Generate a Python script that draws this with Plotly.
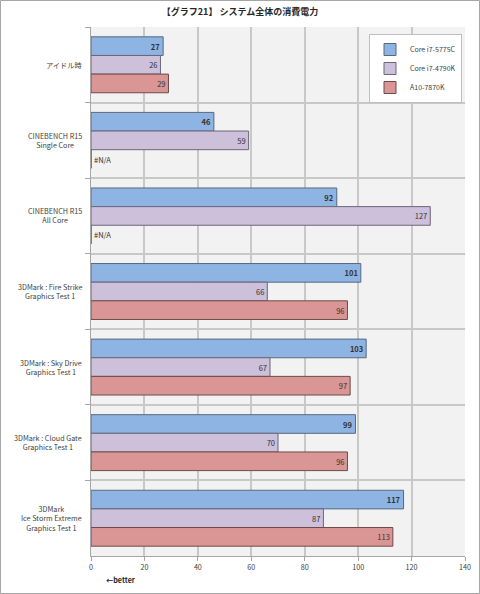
import plotly.graph_objects as go

categories = [
    "アイドル時",
    "CINEBENCH R15<br>Single Core",
    "CINEBENCH R15<br>All Core",
    "3DMark : Fire Strike<br>Graphics Test 1",
    "3DMark : Sky Drive<br>Graphics Test 1",
    "3DMark : Cloud Gate<br>Graphics Test 1",
    "3DMark<br>Ice Storm Extreme<br>Graphics Test 1",
]
series_names = ["Core i7-5775C", "Core i7-4790K", "A10-7870K"]
i7_5775c = [27, 46, 92, 101, 103, 99, 117]
i7_4790k = [26, 59, 127, 66, 67, 70, 87]
a10_7870k = [29, None, None, 96, 97, 96, 113]
x_ticks = [0, 20, 40, 60, 80, 100, 120, 140]

fills = ["#8EB4E3", "#CCC0DA", "#D99694"]
lines = ["#58687e", "#6c667a", "#6e4a4a"]
FONT = "Noto Sans CJK JP"

W, H = 480, 594
L, R, T, B = 91, 15, 27, 38
pw, ph = W - L - R, H - T - B

fig = go.Figure()
for name, vals, fc, lc, bold in zip(series_names, [i7_5775c, i7_4790k, a10_7870k], fills, lines, [True, False, False]):
    xs = [v if v is not None else 0 for v in vals]
    texts = []
    pos = []
    for v in vals:
        if v is None:
            texts.append("#N/A")
            pos.append("outside")
        else:
            texts.append(f"<b>{v}</b>" if bold else str(v))
            pos.append("inside")
    fig.add_trace(go.Bar(
        name=name, y=categories, x=xs, orientation="h",
        marker=dict(color=fc, line=dict(color=lc, width=1)),
        text=texts, textposition=pos, insidetextanchor="end", textangle=0,
        textfont=dict(family=FONT, size=7.5, color="#333333"),
        outsidetextfont=dict(family=FONT, size=7.5, color="#333333"),
        insidetextfont=dict(family=FONT, size=7.5, color="#333333"),
        constraintext="none", cliponaxis=False,
        hoverinfo="skip",
    ))

fig.update_layout(
    template="none",
    width=W, height=H, autosize=False,
    margin=dict(l=L, r=R, t=T, b=B, pad=0, autoexpand=False),
    paper_bgcolor="white", plot_bgcolor="#F2F2F2",
    barmode="group", bargap=0.26, bargroupgap=0,
    font=dict(family=FONT, size=7.2, color="#404040"),
    title=dict(text="<b>【グラフ21】 システム全体の消費電力</b>", x=0.5, xref="container",
               y=1 - 12 / H, yref="container", yanchor="middle", automargin=False,
               font=dict(family=FONT, size=9, color="#262626")),
    legend=dict(x=(462 - L) / pw, y=1 - (34 - T) / ph, xanchor="right", yanchor="top",
                bgcolor="white", bordercolor="#BFBFBF", borderwidth=1,
                font=dict(family=FONT, size=7, color="#404040"),
                traceorder="normal", itemwidth=30, tracegroupgap=0),
    xaxis=dict(range=[0, 140], tickvals=x_ticks, showgrid=True, gridcolor="#C8C8C8", gridwidth=1.5,
               showline=True, linecolor="#A6A6A6", ticks="outside", ticklen=4, tickcolor="#A6A6A6",
               zeroline=False, automargin=False, tickfont=dict(size=7.2, color="#404040")),
    yaxis=dict(type="category", autorange="reversed", tickson="boundaries", showgrid=True,
               gridcolor="#C8C8C8", gridwidth=1.5, showline=True, linecolor="#A6A6A6",
               ticks="outside", ticklen=5, tickcolor="#A6A6A6", showticklabels=False,
               zeroline=False, automargin=False),
    showlegend=True,
)

# category labels, centred lines, right edge ~8px left of the axis
for cat in categories:
    fig.add_annotation(text=cat, xref="paper", yref="y", x=0, y=cat, xshift=-7,
                       xanchor="right", yanchor="middle", align="center", showarrow=False,
                       font=dict(family=FONT, size=7.2, color="#404040"))

fig.add_annotation(text="<b>←better</b>", xref="paper", yref="paper",
                   x=(104 - L) / pw, y=-(580 - T - ph) / ph, xanchor="left", yanchor="middle",
                   showarrow=False, font=dict(family=FONT, size=7.2, color="#262626"))

fig.add_shape(type="rect", xref="paper", yref="paper",
              x0=(0.5 - L) / pw, x1=(W - 0.5 - L) / pw,
              y0=-(H - 0.5 - T - ph) / ph, y1=1 + (T - 0.5) / ph,
              line=dict(color="#A6A6A6", width=1), fillcolor="rgba(0,0,0,0)", layer="below")

fig.write_html("out.html", config={"displayModeBar": False},
               post_script="document.body.style.margin='0';document.body.style.overflow='hidden';")
